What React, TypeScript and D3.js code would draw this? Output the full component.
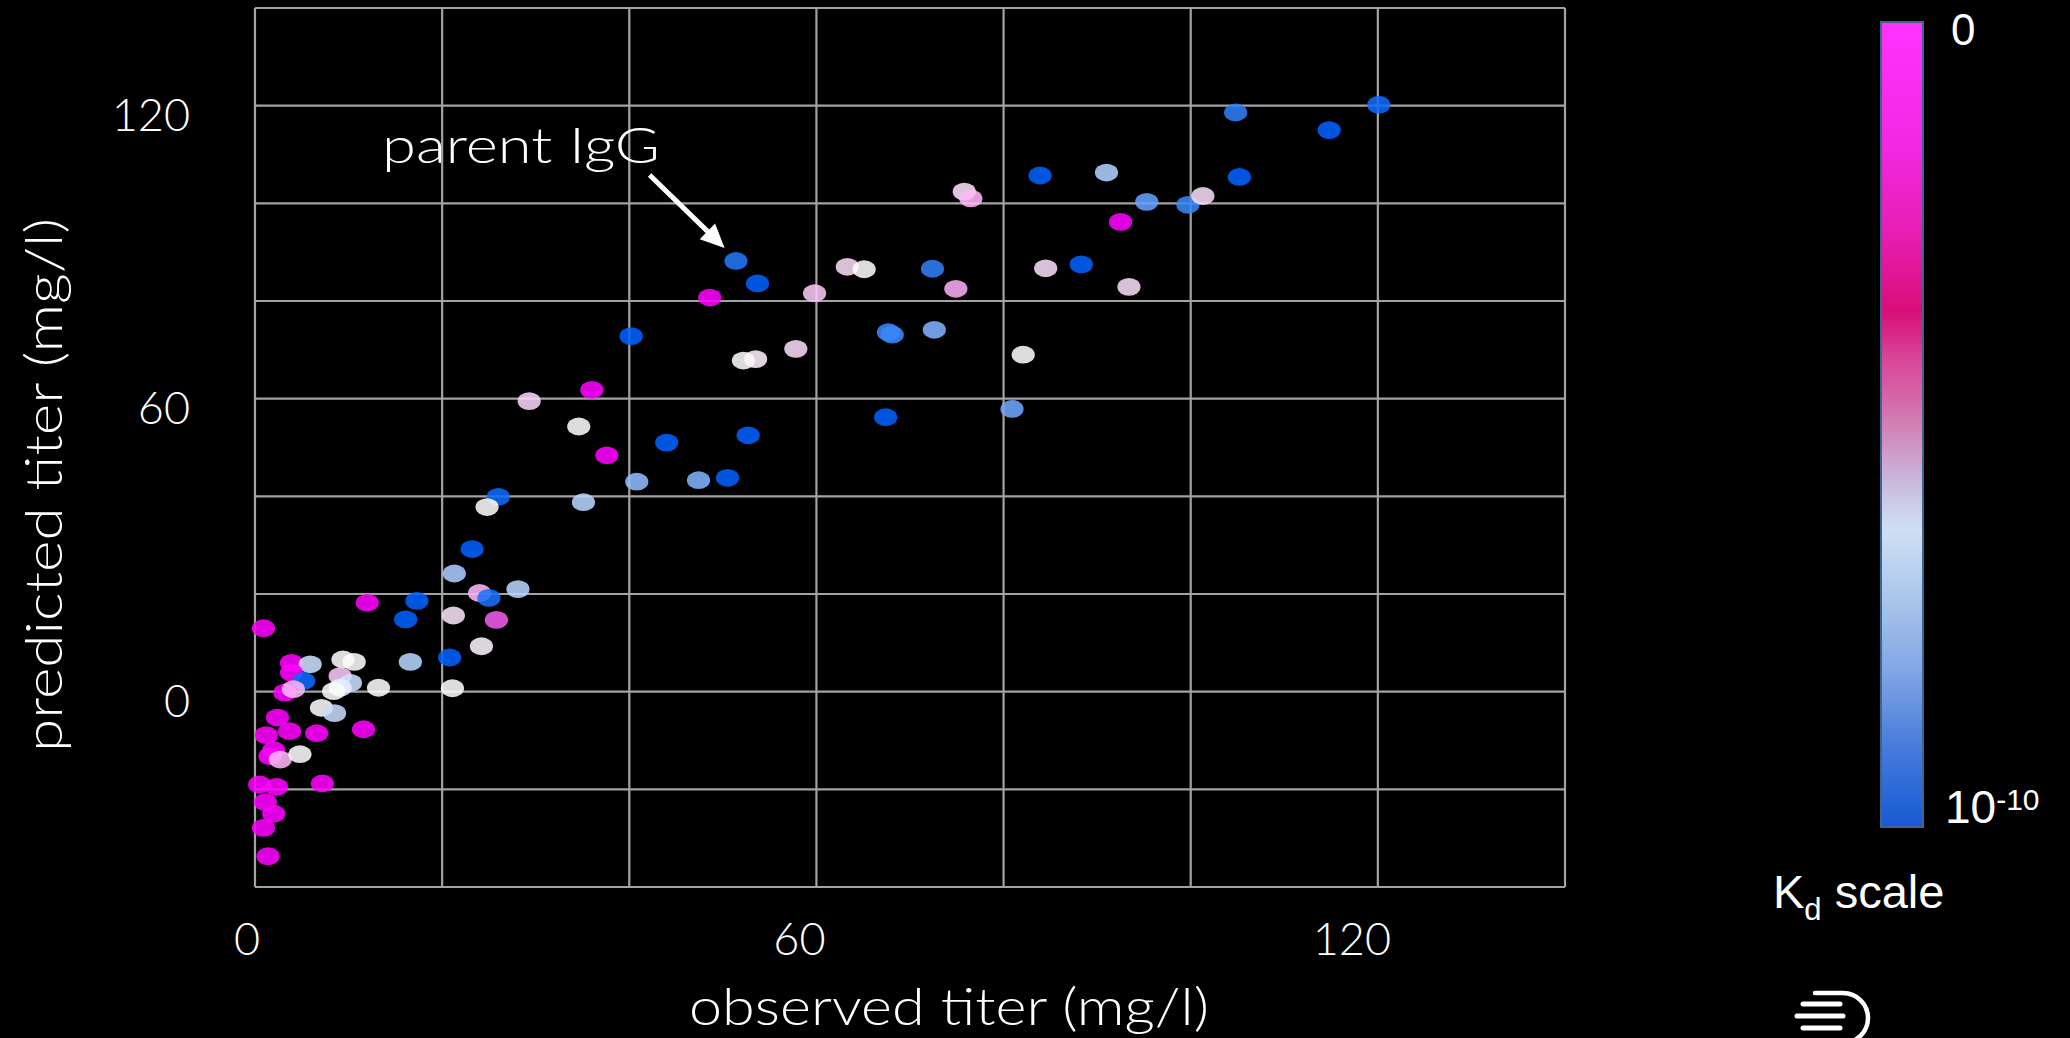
import React from "react";
import * as d3 from "d3";

// ---- data ----
const observedTiter = [
  51.4, 53.7, 48.6, 59.8, 63.3, 65.1, 72.4, 74.9, 75.8, 76.5, 83.9, 91.0, 95.3, 99.7, 101.3, 105.2, 104.8, 114.8, 120.1, 92.5,
  84.5, 88.3, 93.4, 52.2, 53.5, 57.8, 67.7, 68.1, 72.6, 82.1, 67.4, 80.9, 52.7, 47.4, 50.5,
  40.2, 36.0, 29.3, 34.6, 44.0, 37.6, 40.8, 26.0, 24.8, 35.1, 23.2, 21.3, 28.1, 24.0, 25.0, 21.2, 25.8, 24.2, 20.8, 17.3,
  12.0, 16.1, 0.9, 16.6, 21.1, 3.9, 5.9, 9.4, 10.6, 3.9, 5.2, 9.1, 10.2, 9.1, 8.4, 13.2, 3.2, 4.1, 7.1, 8.5,
  2.4, 3.7, 6.6, 11.6, 1.2, 2.0, 1.6, 2.7, 4.8, 0.5, 2.3, 7.2, 1.1, 2.0, 0.9, 1.4,
];
const predictedTiter = [
  88.2, 83.6, 80.7, 81.6, 87.0, 86.5, 86.6, 82.5, 102.4, 101.0, 105.7, 106.3, 100.3, 99.7, 101.5, 105.4, 118.6, 115.0, 120.2, 96.2,
  86.7, 87.5, 82.9, 67.8, 68.1, 70.2, 73.6, 73.1, 74.1, 69.0, 56.2, 57.9, 52.5, 43.3, 43.8,
  72.8, 61.8, 59.5, 54.3, 51.0, 48.4, 43.0, 39.9, 37.8, 38.8, 29.2, 24.2, 21.0, 20.2, 19.2, 15.6, 14.7, 9.3, 7.0, 18.6,
  18.2, 14.8, 13.0, 6.1, 0.7, 5.9, 5.6, 6.6, 6.1, 3.9, 2.2, 3.2, 1.8, 0.8, 0.1, 0.8, -0.2, 0.5, -3.3, -4.4,
  -5.3, -8.1, -8.5, -7.7, -8.9, -12.0, -13.2, -13.9, -12.8, -19.0, -19.5, -18.8, -22.6, -25.0, -27.9, -33.7,
];
// position on the Kd colour scale: 0 = top of bar ("0", magenta), 1 = bottom ("10^-10", blue)
const kdLevel = [
  0.93, 1, 0, 0.4, 0.45, 0.55, 0.9, 0.33, 0.47, 0.35, 1, 0.66, 0.8, 0.88, 0.45, 1, 0.9, 1, 0.97, 0,
  0.45, 1, 0.45, 0.55, 0.52, 0.45, 0.88, 0.88, 0.75, 0.55, 1, 0.78, 1, 0.75, 1,
  1, 0, 0.43, 0.55, 1, 0, 0.72, 0.97, 0.55, 0.65, 1, 0.67, 0.65, 0.35, 0.95, 0.47, 0.2, 0.53, 1, 1,
  0, 1, 0, 0.65, 0.55, 0, 0.62, 0.55, 0.55, 0, 0.97, 0.4, 0.62, 0.58, 0.55, 0.55, 0, 0.35, 0.55, 0.63,
  0, 0, 0, 0, 0, 0, 0, 0.35, 0.55, 0, 0, 0, 0, 0, 0, 0,
];
const xTickValues = [0, 60, 120];
const yTickValues = [0, 60, 120];
const xDomain = [0, 140];
const yDomain = [-40, 140];
const gridStep = 20;
const annotationText = "parent IgG";
const xTitle = "observed titer (mg/l)";
const yTitle = "predicted titer (mg/l)";
const kdTopLabel = "0";
const kdBottomBase = "10";
const kdBottomExp = "-10";

// dot colours along the Kd scale
const dotStops = [0, 0.2, 0.35, 0.45, 0.55, 0.65, 0.78, 0.9, 1];
const dotColors = ["#ff00ff", "#ef5cef", "#ffb8f8", "#f8dcf8", "#fdfdfd", "#b8d4ff", "#70a8ff", "#3080f8", "#0062ff"];
// colour bar gradient
const barStops = [0, 0.16, 0.26, 0.36, 0.42, 0.47, 0.52, 0.57, 0.63, 0.72, 0.81, 0.89, 0.98, 1];
const barColors = ["#ff33ff", "#f028e0", "#e81eb4", "#d80f78", "#d84898", "#d468a8", "#d090c0", "#c8b8dc", "#cfe0f4", "#a8c4ea", "#80a4e4", "#4c80dc", "#2060d6", "#1a58d4"];

const W = 2070;
const H = 1038;
const plot = { left: 255, right: 1565, top: 8, bottom: 887 };
const gridColor = "#a3a3a3";
const geo = "Lato, 'Open Sans', sans-serif";
const arial = "'Liberation Sans', Arial, sans-serif";

export default function App() {
  const x = d3.scaleLinear().domain(xDomain).range([plot.left, plot.right]);
  const y = d3.scaleLinear().domain(yDomain).range([plot.bottom, plot.top]);
  const xLabel = d3.scaleLinear().domain([0, 120]).range([x(0) - 8, x(120) - 26]);
  const color = d3.scaleLinear<string>().domain(dotStops).range(dotColors).interpolate(d3.interpolateRgb);

  const xGrid = d3.range(xDomain[0], xDomain[1] + 0.001, gridStep);
  const yGrid = d3.range(yDomain[0], yDomain[1] + 0.001, gridStep);

  const points = observedTiter.map((v, i) => ({ ox: v, py: predictedTiter[i], k: kdLevel[i] }));

  // arrow from label to the parent IgG point
  const tip = { x: 724.6, y: 248 };
  const start = { x: 649.6, y: 175 };
  const dx = tip.x - start.x, dy = tip.y - start.y;
  const len = Math.hypot(dx, dy);
  const ux = dx / len, uy = dy / len;
  const headL = 24, headW = 11;
  const bx = tip.x - ux * headL, by = tip.y - uy * headL;
  const head = `M${tip.x},${tip.y} L${bx - uy * headW},${by + ux * headW} L${bx + uy * headW},${by - ux * headW} Z`;

  const bar = { x: 1881, y: 22, w: 42, h: 805 };

  return (
    <svg width={W} height={H} style={{ position: "absolute", left: 0, top: 0, background: "#000" }}>
      <defs>
        <linearGradient id="kdGrad" x1="0" y1="0" x2="0" y2="1">
          {barStops.map((s, i) => (
            <stop key={i} offset={s} stopColor={barColors[i]} />
          ))}
        </linearGradient>
      </defs>
      <rect x={0} y={0} width={W} height={H} fill="#000" />

      {/* grid */}
      <g stroke={gridColor} strokeWidth={2.2}>
        {xGrid.map((v) => (
          <line key={"gx" + v} x1={x(v)} x2={x(v)} y1={plot.top} y2={plot.bottom} />
        ))}
        {yGrid.map((v) => (
          <line key={"gy" + v} x1={plot.left} x2={plot.right} y1={y(v)} y2={y(v)} />
        ))}
      </g>

      {/* points */}
      <g>
        {points.map((p, i) => (
          <ellipse key={i} cx={x(p.ox)} cy={y(p.py)} rx={11.6} ry={8.9} fill={color(p.k)} fillOpacity={0.87} />
        ))}
      </g>

      {/* tick labels */}
      <g fill="#fff" fontFamily={geo} fontWeight={300} fontSize={45}>
        {xTickValues.map((v) => (
          <text key={"xt" + v} x={xLabel(v)} y={955} textAnchor="middle">
            {v}
          </text>
        ))}
        {yTickValues.map((v) => (
          <text key={"yt" + v} x={190} y={y(v) + 25} textAnchor="end">
            {v}
          </text>
        ))}
      </g>

      {/* axis titles */}
      <text x={689} y={1025} fill="#fff" fontFamily={geo} fontWeight={300} fontSize={52} textLength={520} lengthAdjust="spacingAndGlyphs">
        {xTitle}
      </text>
      <text
        transform="translate(62,752) rotate(-90)"
        x={0}
        y={0}
        fill="#fff"
        fontFamily={geo}
        fontWeight={300}
        fontSize={51}
        textLength={534}
        lengthAdjust="spacingAndGlyphs"
      >
        {yTitle}
      </text>

      {/* annotation */}
      <text x={382} y={163} fill="#fff" fontFamily={geo} fontWeight={300} fontSize={50} textLength={278} lengthAdjust="spacingAndGlyphs">
        {annotationText}
      </text>
      <line x1={start.x} y1={start.y} x2={bx + ux * 2} y2={by + uy * 2} stroke="#fff" strokeWidth={5} />
      <path d={head} fill="#fff" />

      {/* colour bar */}
      <rect x={bar.x} y={bar.y} width={bar.w} height={bar.h} fill="url(#kdGrad)" stroke="#3d6590" strokeWidth={2} />
      <text x={1951} y={45} fill="#fff" fontFamily={arial} fontSize={44}>
        {kdTopLabel}
      </text>
      <text x={1945} y={823} fill="#fff" fontFamily={arial} fontSize={46}>
        {kdBottomBase}
        <tspan fontSize={30} dy={-13}>
          {kdBottomExp}
        </tspan>
      </text>
      <text x={1773} y={908} fill="#fff" fontFamily={arial} fontSize={47}>
        K
        <tspan fontSize={31} dy={12}>
          d
        </tspan>
        <tspan dy={-12}> scale</tspan>
      </text>

      {/* logo */}
      <g stroke="#fff" fill="none" strokeLinecap="round">
        <line x1={1803} x2={1840} y1={1004} y2={1004} strokeWidth={5} />
        <line x1={1797} x2={1843} y1={1016} y2={1016} strokeWidth={5} />
        <line x1={1803} x2={1840} y1={1028} y2={1028} strokeWidth={5} />
        <path d="M1815,993 H1843 A25,25 0 0 1 1843,1043 H1795" strokeWidth={4.5} />
      </g>
    </svg>
  );
}
